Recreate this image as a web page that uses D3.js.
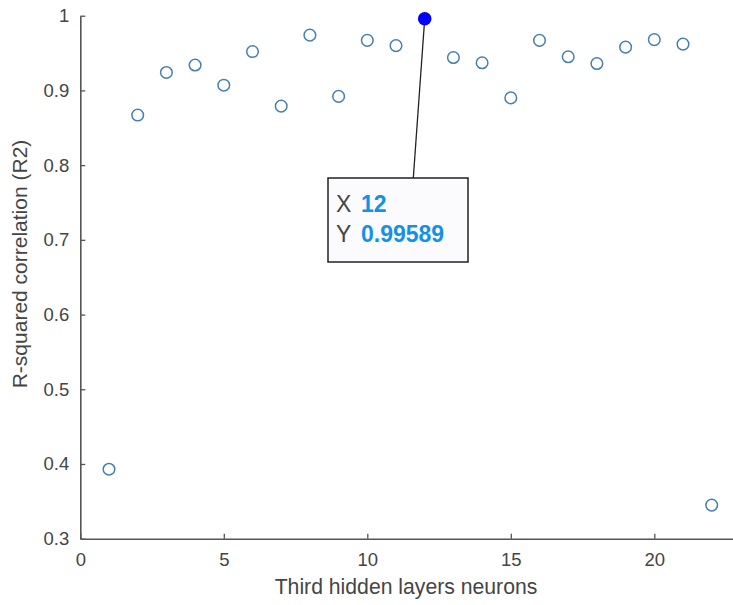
<!DOCTYPE html>
<html>
<head>
<meta charset="utf-8">
<script src="https://cdn.jsdelivr.net/npm/d3@7"></script>
<style>
  body { margin: 0; background: #fff; }
  svg { display: block; font-family: "Liberation Sans", Arial, sans-serif; }
</style>
</head>
<body>
<svg width="733" height="605"></svg>
<script>
// neurons in the third hidden layer and the R2 for each
var neurons = [1, 2, 3, 4, 5, 6, 7, 8, 9, 10, 11, 12, 13, 14, 15, 16, 17, 18, 19, 20, 21, 22];
var r2 = [0.393, 0.867, 0.924, 0.934, 0.907, 0.952, 0.879, 0.974, 0.892, 0.967, 0.960,
          0.99589, 0.944, 0.937, 0.890, 0.967, 0.945, 0.936, 0.958, 0.968, 0.962, 0.345];
var xTicks = [0, 5, 10, 15, 20];
var yTicks = [0.3, 0.4, 0.5, 0.6, 0.7, 0.8, 0.9, 1];
var yTickLabels = ["0.3", "0.4", "0.5", "0.6", "0.7", "0.8", "0.9", "1"];
var tipIndex = 11;

var svg = d3.select("svg"),
    plotLeft = 80.3, plotTop = 15.7, plotBottom = 538.7;

var x = d3.scaleLinear().domain([0, 23]).range([plotLeft, plotLeft + 23 * 28.7]);
var y = d3.scaleLinear().domain([0.3, 1]).range([plotBottom, plotTop]);

var axisColor = "#555";
var textColor = "#454545";

var gx = svg.append("g")
    .attr("transform", "translate(0," + plotBottom + ")")
    .call(d3.axisBottom(x).tickValues(xTicks).tickSizeInner(-5).tickSizeOuter(0).tickPadding(14));

var gy = svg.append("g")
    .attr("transform", "translate(" + plotLeft + ",0)")
    .call(d3.axisLeft(y).tickValues(yTicks).tickSizeInner(-5).tickSizeOuter(0).tickPadding(11)
      .tickFormat(function(d, i) { return yTickLabels[i]; }));

[gx, gy].forEach(function(g) {
  g.select(".domain").attr("stroke", axisColor).attr("stroke-width", 1.6);
  g.selectAll(".tick line").attr("stroke", axisColor).attr("stroke-width", 1.3);
  g.selectAll(".tick text").attr("fill", textColor).attr("font-size", 18.5);
});

// axis titles
svg.append("text")
    .attr("x", 406)
    .attr("y", 594)
    .attr("text-anchor", "middle")
    .attr("fill", textColor)
    .attr("font-size", 21.2)
    .text("Third hidden layers neurons");

svg.append("text")
    .attr("transform", "translate(27,264) rotate(-90)")
    .attr("text-anchor", "middle")
    .attr("fill", textColor)
    .attr("font-size", 21)
    .text("R-squared correlation (R2)");

// points
svg.append("g").selectAll("circle")
  .data(neurons.filter(function(d, i) { return i !== tipIndex; }))
  .enter().append("circle")
    .attr("cx", function(d) { return x(d); })
    .attr("cy", function(d) { return y(r2[neurons.indexOf(d)]); })
    .attr("r", 5.8)
    .attr("fill", "none")
    .attr("stroke", "#4680b0")
    .attr("stroke-width", 1.5);

// data tip
var tx = x(neurons[tipIndex]), ty = y(r2[tipIndex]);
var box = {x: 328, y: 178, w: 140, h: 84};

svg.append("line")
    .attr("x1", tx).attr("y1", ty)
    .attr("x2", 413.3).attr("y2", box.y)
    .attr("stroke", "#222")
    .attr("stroke-width", 1.3);

svg.append("circle")
    .attr("cx", tx).attr("cy", ty)
    .attr("r", 6.8)
    .attr("fill", "#0000ff");

svg.append("rect")
    .attr("x", box.x).attr("y", box.y)
    .attr("width", box.w).attr("height", box.h)
    .attr("fill", "#fbfbfd")
    .attr("stroke", "#222")
    .attr("stroke-width", 1.5);

var rows = [["X", String(neurons[tipIndex])], ["Y", d3.format(".5f")(r2[tipIndex])]];
rows.forEach(function(r, i) {
  var t = svg.append("text")
      .attr("y", 212 + i * 30)
      .attr("font-size", 23);
  t.append("tspan").attr("x", 336).attr("fill", textColor).text(r[0]);
  t.append("tspan").attr("x", 361).attr("fill", "#1590e8").attr("font-weight", "bold").text(r[1]);
});
</script>
</body>
</html>
